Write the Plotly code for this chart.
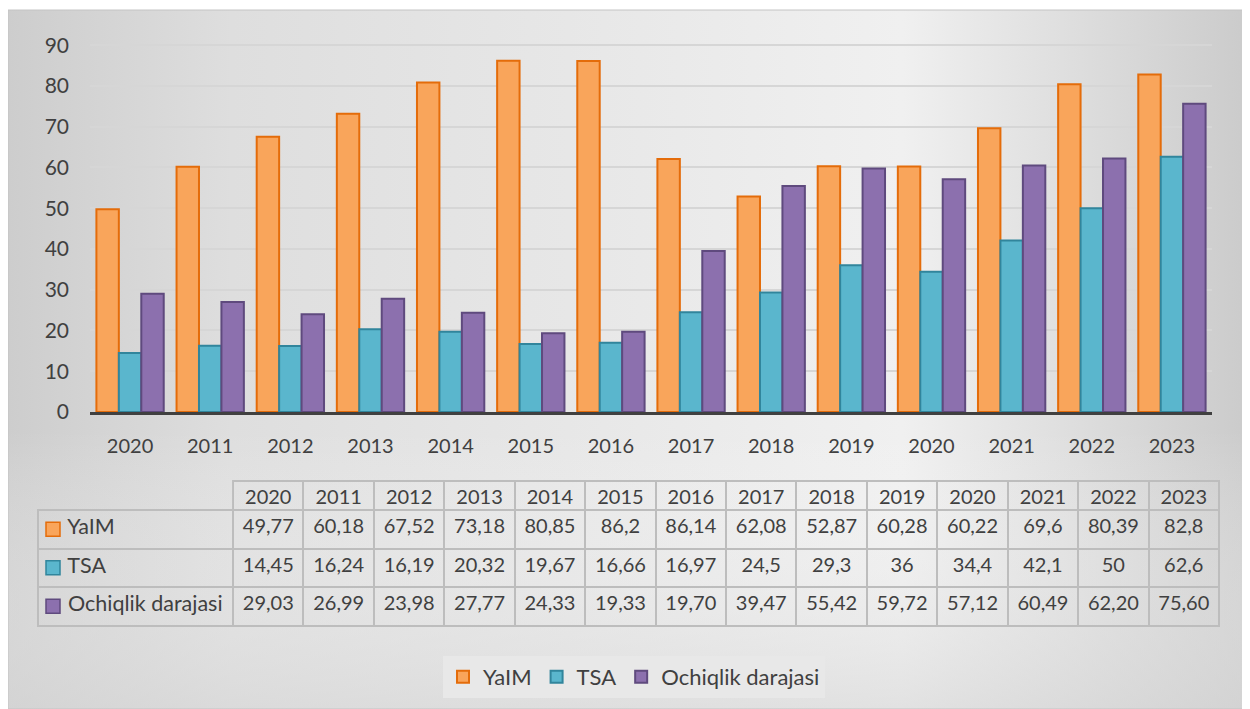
import base64
import plotly.graph_objects as go

# ---------------- data ----------------
years = ["2020", "2011", "2012", "2013", "2014", "2015", "2016",
         "2017", "2018", "2019", "2020", "2021", "2022", "2023"]
yalm = [49.77, 60.18, 67.52, 73.18, 80.85, 86.2, 86.14,
        62.08, 52.87, 60.28, 60.22, 69.6, 80.39, 82.8]
tsa = [14.45, 16.24, 16.19, 20.32, 19.67, 16.66, 16.97,
       24.5, 29.3, 36, 34.4, 42.1, 50, 62.6]
ochiq = [29.03, 26.99, 23.98, 27.77, 24.33, 19.33, 19.70,
         39.47, 55.42, 59.72, 57.12, 60.49, 62.20, 75.60]
series_names = ["YaIM", "TSA", "Ochiqlik darajasi"]
y_ticks = [0, 10, 20, 30, 40, 50, 60, 70, 80, 90]

# ---------------- styling ----------------
OFF = 8  # page body margin
W, H = 1250 - OFF, 709 - OFF
FONT = "Lato"
TXT = "#404040"
fills = ["#F9A55B", "#5AB6CD", "#8C70AE"]
edges = ["#E46C0A", "#31859C", "#5F4A7E"]


def fx(p):
    return (p - OFF) / W


def fy(p):
    return 1 - (p - OFF) / H


def fmt_short(v):
    return f"{v:g}".replace(".", ",")


def fmt_two(v):
    return f"{v:.2f}".replace(".", ",")


xs = list(range(len(years)))

fig = go.Figure()
for name, vals, fc, ec in zip(series_names, [yalm, tsa, ochiq], fills, edges):
    fig.add_trace(go.Bar(
        x=xs, y=vals, name=name,
        marker=dict(color=fc, line=dict(color=ec, width=2)),
        hoverinfo="y+name",
    ))

# background gradient (as an embedded svg image)
svg = (
    '<svg xmlns="http://www.w3.org/2000/svg" viewBox="0 0 100 100" preserveAspectRatio="none">'
    '<defs><linearGradient id="g" x1="0" y1="0" x2="1" y2="0">'
    '<stop offset="0" stop-color="#cdcdcd"/>'
    '<stop offset="0.18" stop-color="#dedede"/>'
    '<stop offset="0.72" stop-color="#f0f0f0"/>'
    '<stop offset="1" stop-color="#cbcbcb"/>'
    '</linearGradient>'
    '<linearGradient id="v" x1="0" y1="0" x2="0" y2="1">'
    '<stop offset="0" stop-color="#ffffff" stop-opacity="0"/>'
    '<stop offset="0.6" stop-color="#ffffff" stop-opacity="0"/>'
    '<stop offset="1" stop-color="#d8d8d8" stop-opacity="0.6"/>'
    '</linearGradient></defs>'
    '<rect x="0" y="0" width="100" height="100" fill="url(#g)"/>'
    '<rect x="0" y="0" width="100" height="100" fill="url(#v)"/>'
    '</svg>'
)
src = "data:image/svg+xml;base64," + base64.b64encode(svg.encode()).decode()

# data table
NB = "\u00a0"
labels = [NB * 4 + n.replace(" ", NB) for n in series_names]
cols = [labels] + [[fmt_short(a), fmt_short(b), fmt_two(c)] for a, b, c in zip(yalm, tsa, ochiq)]
line_col = "#bdbdbd"
TAB_TOP, HDR_H, ROW_H = 481, 29, 38.5
fig.add_trace(go.Table(
    domain=dict(x=[fx(38), fx(1219)], y=[fy(650), fy(TAB_TOP)]),
    columnwidth=[195] + [70.4] * len(years),
    header=dict(
        values=[""] + years,
        fill=dict(color="rgba(0,0,0,0)"),
        line=dict(color=["rgba(0,0,0,0)"] + [line_col] * len(years), width=2),
        font=dict(family=FONT, size=20, color=TXT),
        align="center", height=HDR_H,
    ),
    cells=dict(
        values=cols,
        fill=dict(color="rgba(0,0,0,0)"),
        line=dict(color=line_col, width=2),
        font=dict(family=FONT, size=[21.5] + [20] * len(years), color=TXT),
        align=["left"] + ["center"] * len(years), height=ROW_H,
    ),
))

# legend keys inside the table's label column
shapes = [dict(type="rect", xref="paper", yref="paper",
               x0=fx(8), y0=0, x1=1, y1=fy(10),
               line=dict(color="#c4c4c4", width=1), layer="below")]
for i, (fc, ec) in enumerate(zip(fills, edges)):
    cy = TAB_TOP + HDR_H + ROW_H * (i + 0.5)
    shapes.append(dict(type="rect", xref="paper", yref="paper",
                       x0=fx(46), x1=fx(60), y0=fy(cy + 7), y1=fy(cy - 7),
                       fillcolor=fc, line=dict(color=ec, width=1.5), layer="above"))

fig.update_layout(
    width=W, height=H,
    margin=dict(l=0, r=0, t=0, b=0),
    paper_bgcolor="white",
    plot_bgcolor="rgba(0,0,0,0)",
    font=dict(family=FONT, size=20, color=TXT),
    barmode="group", bargap=0.16, bargroupgap=0.0,
    images=[dict(source=src, xref="paper", yref="paper",
                 x=fx(8), y=fy(10), sizex=1 - fx(8), sizey=fy(10),
                 xanchor="left", yanchor="top", sizing="stretch", layer="below")],
    shapes=shapes,
    xaxis=dict(
        domain=[fx(90), fx(1212)], range=[-0.5, len(years) - 0.5],
        tickmode="array", tickvals=xs, ticktext=years,
        showgrid=False, zeroline=False,
        showline=True, linecolor="#404040", linewidth=3,
        ticks="", ticklabelstandoff=14,
        tickfont=dict(family=FONT, size=20, color=TXT),
        automargin=False, fixedrange=True,
    ),
    yaxis=dict(
        domain=[fy(412), fy(37)], range=[0, 92],
        tickmode="array", tickvals=y_ticks,
        showgrid=True, gridcolor="#d6d6d6", gridwidth=2,
        zeroline=False, showline=False, ticks="",
        ticklabelstandoff=20,
        tickfont=dict(family=FONT, size=21, color=TXT),
        automargin=False, fixedrange=True,
    ),
    legend=dict(
        orientation="h", x=fx(634), xanchor="center", y=fy(677), yanchor="middle",
        bgcolor="#e8e8e8", borderwidth=0,
        font=dict(family=FONT, size=22, color=TXT),
        itemclick=False, itemdoubleclick=False,
    ),
    showlegend=True,
)

fig.write_html("out.html")
